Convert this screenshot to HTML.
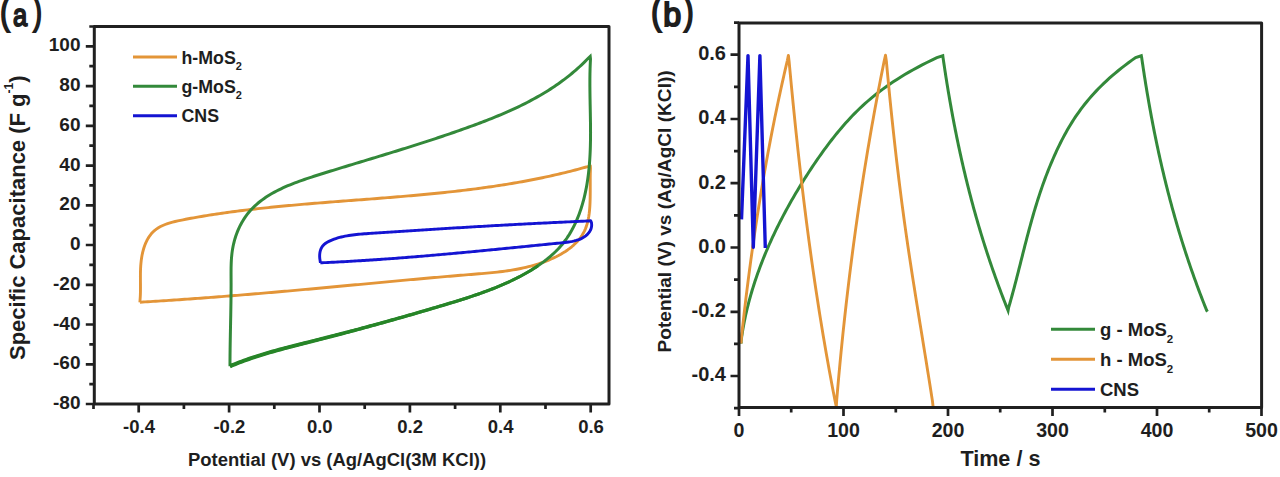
<!DOCTYPE html><html><head><meta charset="utf-8"><style>html,body{margin:0;padding:0;background:#fff;overflow:hidden;}svg{display:block;}text{font-family:"Liberation Sans",sans-serif;font-weight:bold;fill:#1e1e1e;}</style></head><body>
<svg width="1280" height="477" viewBox="0 0 1280 477">
<defs><clipPath id="ca"><rect x="94.3" y="26.5" width="514.7" height="377.5"/></clipPath><clipPath id="cb"><rect x="739" y="23" width="522.6" height="384.6"/></clipPath></defs>
<g clip-path="url(#ca)">
<path d="M139.90,302.40 L140.06,299.76 L140.24,297.25 L140.37,294.73 L140.44,292.18 L140.47,289.62 L140.48,287.04 L140.47,284.44 L140.44,281.83 L140.42,279.21 L140.42,276.57 L140.43,273.93 L140.48,271.27 L140.57,268.61 L140.72,265.95 L140.93,263.28 L141.21,260.61 L141.58,257.94 L142.04,255.28 L142.60,252.64 L143.26,250.04 L144.02,247.50 L144.89,245.01 L145.88,242.61 L146.99,240.30 L148.22,238.09 L149.57,236.01 L151.06,234.06 L152.69,232.25 L154.46,230.60 L156.37,229.12 L158.40,227.77 L160.54,226.57 L162.79,225.48 L165.13,224.51 L167.54,223.63 L170.02,222.85 L172.56,222.13 L175.14,221.48 L177.75,220.89 L180.39,220.33 L183.03,219.80 L185.67,219.29 L188.30,218.79 L190.93,218.30 L193.55,217.82 L196.17,217.35 L198.78,216.89 L201.38,216.45 L203.98,216.01 L206.57,215.58 L209.16,215.16 L211.75,214.76 L214.33,214.36 L216.91,213.96 L219.49,213.58 L222.06,213.21 L224.63,212.84 L227.20,212.48 L229.77,212.13 L232.33,211.78 L234.90,211.44 L237.46,211.11 L240.02,210.79 L242.59,210.47 L245.15,210.16 L247.72,209.85 L250.28,209.55 L252.85,209.25 L255.42,208.96 L257.99,208.67 L260.56,208.39 L263.13,208.11 L265.70,207.84 L268.28,207.57 L270.85,207.30 L273.43,207.04 L276.01,206.78 L278.59,206.53 L281.17,206.28 L283.75,206.04 L286.33,205.79 L288.91,205.55 L291.50,205.32 L294.08,205.08 L296.67,204.85 L299.26,204.63 L301.85,204.40 L304.43,204.18 L307.02,203.96 L309.62,203.74 L312.21,203.53 L314.80,203.31 L317.39,203.10 L319.98,202.89 L322.58,202.68 L325.17,202.48 L327.77,202.27 L330.36,202.07 L332.96,201.87 L335.56,201.66 L338.16,201.46 L340.75,201.26 L343.35,201.06 L345.95,200.87 L348.55,200.67 L351.15,200.47 L353.75,200.27 L356.35,200.07 L358.95,199.88 L361.55,199.68 L364.15,199.48 L366.75,199.28 L369.35,199.08 L371.95,198.88 L374.55,198.68 L377.15,198.48 L379.75,198.27 L382.35,198.07 L384.95,197.86 L387.56,197.65 L390.16,197.45 L392.76,197.23 L395.36,197.02 L397.96,196.81 L400.56,196.59 L403.16,196.37 L405.76,196.15 L408.36,195.93 L410.95,195.70 L413.55,195.47 L416.15,195.24 L418.75,195.00 L421.35,194.76 L423.94,194.52 L426.54,194.28 L429.13,194.03 L431.73,193.78 L434.32,193.52 L436.92,193.26 L439.51,193.00 L442.10,192.73 L444.69,192.46 L447.29,192.18 L449.88,191.90 L452.47,191.62 L455.05,191.33 L457.64,191.03 L460.23,190.73 L462.81,190.43 L465.40,190.11 L467.98,189.80 L470.57,189.48 L473.15,189.15 L475.73,188.82 L478.31,188.48 L480.89,188.13 L483.47,187.78 L486.04,187.43 L488.62,187.06 L491.19,186.69 L493.76,186.32 L496.34,185.93 L498.91,185.54 L501.47,185.14 L504.04,184.74 L506.61,184.33 L509.17,183.91 L511.74,183.48 L514.30,183.05 L516.86,182.61 L519.42,182.16 L521.97,181.70 L524.53,181.23 L527.08,180.76 L529.63,180.27 L532.18,179.78 L534.73,179.28 L537.28,178.77 L539.83,178.26 L542.37,177.73 L544.91,177.19 L547.45,176.65 L549.99,176.09 L552.52,175.53 L555.06,174.96 L557.59,174.37 L560.12,173.78 L562.65,173.17 L565.17,172.56 L567.70,171.94 L570.22,171.30 L572.74,170.66 L575.26,170.00 L577.77,169.34 L580.28,168.66 L582.79,167.97 L585.30,167.27 L587.81,166.56 L590.30,165.70 L590.46,168.37 L590.37,170.90 L590.30,173.45 L590.26,176.02 L590.24,178.61 L590.24,181.22 L590.24,183.85 L590.24,186.49 L590.24,189.15 L590.24,191.83 L590.22,194.52 L590.18,197.22 L590.12,199.94 L590.03,202.66 L589.90,205.39 L589.72,208.12 L589.49,210.83 L589.19,213.52 L588.81,216.19 L588.35,218.81 L587.79,221.39 L587.12,223.92 L586.34,226.38 L585.44,228.78 L584.40,231.09 L583.23,233.33 L581.92,235.48 L580.50,237.55 L578.95,239.54 L577.29,241.46 L575.53,243.30 L573.67,245.07 L571.72,246.76 L569.69,248.39 L567.58,249.94 L565.40,251.43 L563.15,252.85 L560.85,254.21 L558.49,255.51 L556.09,256.74 L553.66,257.91 L551.19,259.03 L548.70,260.09 L546.19,261.09 L543.67,262.04 L541.14,262.94 L538.61,263.78 L536.07,264.58 L533.52,265.34 L530.97,266.05 L528.41,266.71 L525.84,267.34 L523.27,267.93 L520.70,268.48 L518.12,268.99 L515.53,269.48 L512.94,269.93 L510.35,270.35 L507.75,270.75 L505.15,271.11 L502.55,271.46 L499.94,271.78 L497.33,272.09 L494.72,272.38 L492.10,272.65 L489.48,272.90 L486.86,273.15 L484.24,273.38 L481.62,273.61 L478.99,273.82 L476.37,274.04 L473.74,274.25 L471.12,274.46 L468.49,274.67 L465.86,274.88 L463.24,275.10 L460.61,275.31 L457.98,275.53 L455.36,275.75 L452.73,275.97 L450.10,276.19 L447.47,276.42 L444.85,276.64 L442.22,276.87 L439.59,277.10 L436.96,277.33 L434.33,277.56 L431.71,277.79 L429.08,278.02 L426.45,278.25 L423.82,278.49 L421.19,278.72 L418.57,278.96 L415.94,279.20 L413.31,279.44 L410.68,279.68 L408.05,279.92 L405.42,280.16 L402.79,280.40 L400.17,280.64 L397.54,280.88 L394.91,281.13 L392.28,281.37 L389.65,281.62 L387.02,281.86 L384.39,282.11 L381.77,282.35 L379.14,282.60 L376.51,282.84 L373.88,283.09 L371.25,283.33 L368.62,283.58 L365.99,283.83 L363.37,284.07 L360.74,284.32 L358.11,284.57 L355.48,284.81 L352.85,285.06 L350.23,285.31 L347.60,285.55 L344.97,285.80 L342.34,286.04 L339.71,286.29 L337.09,286.53 L334.46,286.77 L331.83,287.02 L329.20,287.26 L326.58,287.50 L323.95,287.75 L321.32,287.99 L318.70,288.23 L316.07,288.47 L313.44,288.71 L310.81,288.95 L308.19,289.19 L305.56,289.42 L302.93,289.66 L300.31,289.90 L297.68,290.13 L295.05,290.37 L292.43,290.60 L289.80,290.84 L287.17,291.07 L284.54,291.30 L281.92,291.53 L279.29,291.76 L276.66,291.99 L274.04,292.22 L271.41,292.45 L268.78,292.68 L266.15,292.90 L263.53,293.13 L260.90,293.35 L258.27,293.57 L255.64,293.79 L253.02,294.02 L250.39,294.24 L247.76,294.45 L245.13,294.67 L242.51,294.89 L239.88,295.10 L237.25,295.32 L234.62,295.53 L231.99,295.74 L229.36,295.95 L226.74,296.16 L224.11,296.37 L221.48,296.58 L218.85,296.78 L216.22,296.98 L213.59,297.19 L210.96,297.39 L208.33,297.59 L205.70,297.79 L203.07,297.98 L200.44,298.18 L197.81,298.37 L195.18,298.56 L192.55,298.76 L189.92,298.95 L187.29,299.13 L184.65,299.32 L182.02,299.50 L179.39,299.69 L176.76,299.87 L174.13,300.05 L171.49,300.23 L168.86,300.40 L166.23,300.58 L163.59,300.75 L160.96,300.92 L158.33,301.09 L155.69,301.26 L153.06,301.42 L150.42,301.59 L147.79,301.75 L145.15,301.91 L142.52,302.07 L139.90,302.40" fill="none" stroke="#E39538" stroke-width="2.9" stroke-linejoin="round"/>
<path d="M230.00,366.30 L229.98,363.83 L229.99,361.35 L230.01,358.87 L230.03,356.40 L230.05,353.93 L230.08,351.47 L230.11,349.01 L230.15,346.55 L230.19,344.09 L230.23,341.64 L230.27,339.19 L230.32,336.74 L230.36,334.29 L230.41,331.84 L230.46,329.40 L230.51,326.95 L230.56,324.51 L230.60,322.07 L230.65,319.63 L230.70,317.19 L230.75,314.75 L230.79,312.31 L230.83,309.86 L230.87,307.42 L230.91,304.98 L230.95,302.54 L230.98,300.09 L231.01,297.64 L231.03,295.20 L231.05,292.75 L231.07,290.29 L231.08,287.84 L231.09,285.38 L231.09,282.92 L231.08,280.46 L231.07,277.99 L231.06,275.53 L231.05,273.06 L231.06,270.58 L231.08,268.11 L231.13,265.64 L231.21,263.17 L231.32,260.70 L231.48,258.23 L231.69,255.77 L231.95,253.31 L232.28,250.85 L232.67,248.40 L233.14,245.96 L233.68,243.53 L234.29,241.11 L234.97,238.71 L235.73,236.33 L236.55,233.98 L237.44,231.66 L238.40,229.37 L239.42,227.12 L240.52,224.92 L241.68,222.76 L242.90,220.66 L244.19,218.60 L245.55,216.61 L246.96,214.68 L248.44,212.81 L249.98,211.00 L251.57,209.25 L253.22,207.55 L254.93,205.91 L256.68,204.32 L258.48,202.78 L260.34,201.29 L262.23,199.85 L264.18,198.45 L266.16,197.10 L268.18,195.80 L270.24,194.53 L272.34,193.31 L274.47,192.12 L276.63,190.97 L278.82,189.86 L281.04,188.78 L283.29,187.73 L285.56,186.71 L287.85,185.73 L290.17,184.76 L292.50,183.83 L294.85,182.92 L297.21,182.03 L299.58,181.16 L301.97,180.31 L304.36,179.48 L306.77,178.66 L309.17,177.86 L311.58,177.07 L313.99,176.30 L316.40,175.53 L318.80,174.77 L321.20,174.02 L323.60,173.27 L325.98,172.53 L328.36,171.79 L330.74,171.05 L333.11,170.32 L335.47,169.59 L337.83,168.87 L340.18,168.15 L342.53,167.43 L344.87,166.72 L347.21,166.01 L349.54,165.30 L351.87,164.59 L354.20,163.88 L356.53,163.18 L358.85,162.47 L361.17,161.77 L363.48,161.07 L365.80,160.37 L368.11,159.67 L370.42,158.97 L372.73,158.27 L375.04,157.57 L377.35,156.86 L379.66,156.16 L381.97,155.46 L384.28,154.76 L386.59,154.05 L388.90,153.34 L391.21,152.63 L393.53,151.92 L395.84,151.21 L398.16,150.49 L400.48,149.77 L402.80,149.05 L405.12,148.32 L407.45,147.60 L409.78,146.86 L412.11,146.13 L414.45,145.39 L416.78,144.64 L419.12,143.90 L421.46,143.14 L423.80,142.39 L426.15,141.63 L428.49,140.87 L430.83,140.10 L433.18,139.33 L435.53,138.56 L437.87,137.78 L440.22,136.99 L442.56,136.21 L444.91,135.42 L447.25,134.62 L449.60,133.82 L451.94,133.02 L454.28,132.21 L456.62,131.39 L458.96,130.58 L461.30,129.75 L463.63,128.93 L465.96,128.09 L468.29,127.26 L470.62,126.42 L472.94,125.57 L475.26,124.72 L477.58,123.86 L479.89,122.99 L482.20,122.12 L484.51,121.24 L486.81,120.35 L489.10,119.45 L491.39,118.54 L493.68,117.62 L495.96,116.70 L498.23,115.76 L500.50,114.82 L502.76,113.86 L505.01,112.89 L507.26,111.91 L509.50,110.91 L511.73,109.91 L513.96,108.89 L516.18,107.85 L518.38,106.81 L520.58,105.74 L522.78,104.67 L524.96,103.58 L527.13,102.47 L529.29,101.34 L531.45,100.20 L533.59,99.05 L535.72,97.87 L537.85,96.68 L539.96,95.47 L542.06,94.24 L544.15,92.99 L546.23,91.72 L548.29,90.43 L550.35,89.12 L552.39,87.79 L554.42,86.44 L556.43,85.07 L558.44,83.67 L560.42,82.25 L562.40,80.81 L564.36,79.35 L566.31,77.86 L568.24,76.35 L570.16,74.81 L572.06,73.25 L573.95,71.66 L575.82,70.05 L577.68,68.41 L579.52,66.74 L581.34,65.05 L583.15,63.33 L584.94,61.58 L586.71,59.80 L588.47,57.99 L590.20,56.40 L590.49,58.98 L590.36,61.47 L590.25,63.95 L590.15,66.44 L590.07,68.93 L590.01,71.43 L589.96,73.93 L589.92,76.43 L589.90,78.94 L589.89,81.44 L589.89,83.96 L589.90,86.47 L589.92,88.98 L589.94,91.50 L589.97,94.02 L590.01,96.54 L590.05,99.06 L590.10,101.58 L590.14,104.11 L590.19,106.63 L590.24,109.16 L590.29,111.69 L590.34,114.22 L590.38,116.75 L590.42,119.28 L590.46,121.81 L590.49,124.34 L590.51,126.87 L590.53,129.40 L590.54,131.93 L590.53,134.45 L590.52,136.98 L590.49,139.51 L590.46,142.04 L590.40,144.56 L590.34,147.09 L590.26,149.61 L590.16,152.13 L590.04,154.65 L589.90,157.17 L589.75,159.68 L589.57,162.20 L589.37,164.71 L589.15,167.22 L588.90,169.72 L588.63,172.23 L588.33,174.73 L588.01,177.22 L587.65,179.72 L587.27,182.21 L586.86,184.70 L586.42,187.18 L585.94,189.66 L585.43,192.14 L584.89,194.61 L584.31,197.07 L583.70,199.52 L583.05,201.96 L582.36,204.38 L581.63,206.80 L580.86,209.20 L580.05,211.58 L579.20,213.94 L578.31,216.28 L577.37,218.60 L576.39,220.90 L575.36,223.17 L574.29,225.41 L573.16,227.63 L571.99,229.82 L570.77,231.97 L569.50,234.10 L568.18,236.19 L566.80,238.25 L565.37,240.26 L563.89,242.24 L562.35,244.18 L560.75,246.08 L559.10,247.94 L557.39,249.75 L555.63,251.52 L553.82,253.25 L551.97,254.95 L550.08,256.60 L548.14,258.22 L546.17,259.80 L544.16,261.34 L542.12,262.85 L540.05,264.33 L537.96,265.77 L535.84,267.18 L533.70,268.56 L531.53,269.91 L529.34,271.23 L527.14,272.51 L524.92,273.77 L522.68,275.00 L520.43,276.20 L518.16,277.38 L515.89,278.53 L513.60,279.65 L511.31,280.75 L509.01,281.83 L506.70,282.88 L504.39,283.91 L502.08,284.92 L499.76,285.90 L497.43,286.87 L495.10,287.81 L492.76,288.74 L490.42,289.65 L488.07,290.55 L485.72,291.42 L483.37,292.28 L481.01,293.13 L478.64,293.96 L476.28,294.78 L473.91,295.59 L471.53,296.39 L469.16,297.17 L466.78,297.95 L464.39,298.71 L462.01,299.47 L459.62,300.22 L457.23,300.96 L454.84,301.70 L452.44,302.43 L450.04,303.16 L447.65,303.88 L445.24,304.61 L442.84,305.32 L440.44,306.04 L438.03,306.76 L435.63,307.47 L433.22,308.18 L430.81,308.89 L428.40,309.60 L425.99,310.31 L423.58,311.02 L421.16,311.72 L418.75,312.42 L416.33,313.12 L413.91,313.82 L411.49,314.52 L409.07,315.21 L406.65,315.90 L404.23,316.60 L401.81,317.28 L399.38,317.97 L396.96,318.66 L394.53,319.34 L392.11,320.02 L389.68,320.70 L387.25,321.38 L384.82,322.06 L382.39,322.73 L379.96,323.40 L377.53,324.07 L375.10,324.74 L372.67,325.41 L370.23,326.07 L367.80,326.74 L365.37,327.40 L362.93,328.05 L360.49,328.71 L358.06,329.36 L355.62,330.02 L353.18,330.67 L350.75,331.31 L348.31,331.96 L345.87,332.60 L343.43,333.24 L340.99,333.88 L338.55,334.52 L336.11,335.16 L333.67,335.79 L331.23,336.42 L328.79,337.05 L326.35,337.67 L323.91,338.30 L321.47,338.92 L319.03,339.54 L316.59,340.15 L314.15,340.77 L311.71,341.38 L309.27,341.99 L306.83,342.60 L304.39,343.22 L301.95,343.83 L299.51,344.44 L297.07,345.06 L294.64,345.68 L292.20,346.30 L289.77,346.93 L287.34,347.57 L284.91,348.21 L282.48,348.85 L280.06,349.51 L277.63,350.17 L275.21,350.84 L272.80,351.52 L270.38,352.21 L267.97,352.91 L265.56,353.63 L263.16,354.35 L260.76,355.09 L258.36,355.84 L255.97,356.61 L253.58,357.39 L251.20,358.19 L248.82,359.01 L246.44,359.84 L244.07,360.69 L241.70,361.56 L239.34,362.44 L236.99,363.35 L234.64,364.28 L232.29,365.23 L230.00,366.30" fill="none" stroke="#33893A" stroke-width="3.0" stroke-linejoin="miter" stroke-miterlimit="30"/>
<path d="M537.13,264.52 L535.02,265.93 L532.89,267.29 L530.75,268.63 L528.58,269.94 L526.39,271.21 L524.19,272.46 L521.96,273.68 L519.73,274.88 L517.48,276.05 L515.22,277.19 L512.95,278.30 L510.67,279.40 L508.38,280.47 L506.09,281.51 L503.79,282.54 L501.48,283.54 L499.17,284.52 L496.86,285.48 L494.53,286.41 L492.21,287.33 L489.87,288.23 L487.53,289.12 L485.19,289.99 L482.84,290.84 L480.49,291.68 L478.14,292.51 L475.77,293.32 L473.41,294.12 L471.04,294.91 L468.67,295.68 L466.29,296.45 L463.92,297.21 L461.53,297.96 L459.15,298.71 L456.76,299.44 L454.37,300.18 L451.98,300.90 L449.58,301.62 L447.18,302.34 L444.78,303.06 L442.38,303.77 L439.97,304.48 L437.57,305.19 L435.16,305.90 L432.75,306.61 L430.34,307.31 L427.93,308.02 L425.52,308.72 L423.11,309.42 L420.70,310.12 L418.28,310.82 L415.86,311.51 L413.45,312.20 L411.03,312.89 L408.61,313.58 L406.19,314.27 L403.76,314.96 L401.34,315.64 L398.92,316.32 L396.49,317.00 L394.07,317.68 L391.64,318.36 L389.21,319.03 L386.79,319.71 L384.36,320.38 L381.93,321.05 L379.50,321.71 L377.06,322.38 L374.63,323.04 L372.20,323.70 L369.77,324.36 L367.33,325.02 L364.90,325.67 L362.46,326.33 L360.03,326.98 L357.59,327.63 L355.16,328.27 L352.72,328.92 L350.28,329.56 L347.84,330.20 L345.41,330.84 L342.97,331.47 L340.53,332.11 L338.09,332.74 L335.65,333.37 L333.21,334.00 L330.77,334.62 L328.33,335.24 L325.89,335.86 L323.45,336.48 L321.01,337.10 L318.57,337.71 L316.13,338.32 L313.69,338.93 L311.24,339.54 L308.80,340.15 L306.36,340.75 L303.92,341.36 L301.48,341.97 L299.04,342.58 L296.60,343.19 L294.16,343.81 L291.72,344.43 L289.28,345.05 L286.84,345.68 L284.41,346.32 L281.97,346.96 L279.54,347.61 L277.11,348.27 L274.68,348.94 L272.26,349.62 L269.83,350.30 L267.41,351.00 L264.99,351.72 L262.58,352.44 L260.16,353.18 L257.75,353.93 L255.35,354.69 L252.95,355.47 L250.55,356.27 L248.15,357.09 L245.76,357.92 L243.37,358.77 L240.99,359.64 L238.61,360.53 L236.24,361.44 L233.88,362.38 L231.47,363.35 L229.13,364.44 L230.87,368.16 L233.11,367.11 L235.40,366.18 L237.73,365.26 L240.07,364.36 L242.42,363.47 L244.77,362.61 L247.12,361.76 L249.48,360.93 L251.85,360.11 L254.22,359.31 L256.59,358.53 L258.97,357.76 L261.36,357.01 L263.74,356.27 L266.14,355.54 L268.53,354.82 L270.93,354.12 L273.34,353.43 L275.75,352.74 L278.16,352.07 L280.57,351.40 L282.99,350.75 L285.41,350.10 L287.83,349.45 L290.26,348.81 L292.68,348.18 L295.11,347.55 L297.55,346.93 L299.98,346.31 L302.41,345.69 L304.85,345.07 L307.29,344.45 L309.73,343.84 L312.17,343.22 L314.61,342.60 L317.05,341.98 L319.49,341.36 L321.93,340.74 L324.37,340.11 L326.82,339.48 L329.26,338.85 L331.70,338.22 L334.14,337.58 L336.58,336.94 L339.02,336.30 L341.46,335.66 L343.90,335.02 L346.34,334.37 L348.77,333.72 L351.21,333.07 L353.65,332.42 L356.09,331.76 L358.52,331.10 L360.96,330.44 L363.40,329.78 L365.83,329.12 L368.27,328.45 L370.70,327.79 L373.13,327.12 L375.57,326.44 L378.00,325.77 L380.43,325.10 L382.86,324.42 L385.29,323.74 L387.72,323.06 L390.15,322.37 L392.57,321.69 L395.00,321.00 L397.43,320.31 L399.85,319.62 L402.27,318.93 L404.70,318.23 L407.12,317.54 L409.54,316.84 L411.96,316.14 L414.38,315.44 L416.80,314.73 L419.21,314.03 L421.63,313.32 L424.04,312.61 L426.45,311.90 L428.86,311.19 L431.28,310.47 L433.68,309.76 L436.09,309.04 L438.50,308.32 L440.90,307.60 L443.31,306.88 L445.71,306.15 L448.11,305.43 L450.51,304.70 L452.91,303.96 L455.31,303.23 L457.70,302.48 L460.09,301.73 L462.49,300.98 L464.87,300.21 L467.26,299.44 L469.65,298.66 L472.03,297.87 L474.41,297.06 L476.78,296.25 L479.15,295.42 L481.52,294.58 L483.89,293.73 L486.25,292.86 L488.61,291.97 L490.96,291.07 L493.31,290.15 L495.66,289.22 L498.00,288.26 L500.34,287.29 L502.67,286.29 L505.00,285.28 L507.32,284.25 L509.64,283.19 L511.95,282.11 L514.26,281.00 L516.56,279.87 L518.85,278.72 L521.13,277.53 L523.39,276.32 L525.65,275.08 L527.89,273.81 L530.11,272.52 L532.31,271.19 L534.50,269.83 L536.66,268.44 L538.79,267.02Z" fill="#268527"/>
<path d="M320.40,262.70 L320.12,260.76 L319.79,258.61 L319.64,256.49 L319.69,254.42 L319.94,252.43 L320.38,250.54 L321.03,248.77 L321.88,247.14 L322.93,245.67 L324.20,244.38 L325.63,243.26 L327.20,242.27 L328.87,241.39 L330.59,240.59 L332.33,239.86 L334.10,239.18 L335.88,238.56 L337.69,237.99 L339.51,237.46 L341.35,236.99 L343.20,236.56 L345.07,236.16 L346.95,235.81 L348.85,235.49 L350.75,235.20 L352.67,234.94 L354.59,234.71 L356.53,234.49 L358.47,234.30 L360.41,234.13 L362.36,233.97 L364.31,233.82 L366.27,233.68 L368.22,233.54 L370.18,233.41 L372.13,233.28 L374.09,233.15 L376.04,233.02 L377.99,232.89 L379.94,232.76 L381.89,232.63 L383.84,232.50 L385.79,232.37 L387.74,232.24 L389.68,232.11 L391.63,231.98 L393.57,231.85 L395.52,231.72 L397.46,231.60 L399.40,231.47 L401.34,231.34 L403.28,231.22 L405.22,231.09 L407.16,230.96 L409.10,230.84 L411.04,230.71 L412.98,230.59 L414.91,230.46 L416.85,230.34 L418.79,230.21 L420.72,230.09 L422.66,229.97 L424.59,229.84 L426.52,229.72 L428.45,229.60 L430.39,229.48 L432.32,229.35 L434.25,229.23 L436.18,229.11 L438.11,228.99 L440.04,228.87 L441.97,228.75 L443.90,228.63 L445.83,228.51 L447.76,228.40 L449.68,228.28 L451.61,228.16 L453.54,228.04 L455.47,227.92 L457.39,227.81 L459.32,227.69 L461.25,227.58 L463.17,227.46 L465.10,227.35 L467.02,227.23 L468.95,227.12 L470.87,227.00 L472.80,226.89 L474.73,226.78 L476.65,226.66 L478.58,226.55 L480.50,226.44 L482.43,226.33 L484.35,226.22 L486.28,226.11 L488.20,226.00 L490.13,225.89 L492.05,225.78 L493.98,225.67 L495.90,225.56 L497.83,225.46 L499.75,225.35 L501.68,225.24 L503.60,225.14 L505.53,225.03 L507.45,224.93 L509.38,224.82 L511.31,224.72 L513.23,224.61 L515.16,224.51 L517.09,224.41 L519.01,224.30 L520.94,224.20 L522.87,224.10 L524.80,224.00 L526.73,223.90 L528.66,223.80 L530.59,223.70 L532.52,223.60 L534.45,223.50 L536.38,223.41 L538.31,223.31 L540.24,223.21 L542.17,223.12 L544.10,223.02 L546.04,222.93 L547.97,222.83 L549.91,222.74 L551.84,222.64 L553.78,222.55 L555.71,222.46 L557.65,222.37 L559.59,222.28 L561.52,222.18 L563.46,222.09 L565.40,222.00 L567.34,221.92 L569.28,221.83 L571.22,221.74 L573.17,221.65 L575.11,221.57 L577.05,221.48 L579.00,221.39 L580.94,221.31 L582.89,221.22 L584.84,221.14 L586.79,221.06 L588.73,220.97 L590.60,220.70 L591.48,222.68 L591.68,224.80 L591.53,226.78 L591.08,228.63 L590.36,230.34 L589.43,231.91 L588.32,233.34 L587.07,234.65 L585.73,235.81 L584.30,236.86 L582.79,237.78 L581.22,238.59 L579.59,239.31 L577.89,239.93 L576.15,240.47 L574.36,240.94 L572.52,241.34 L570.66,241.69 L568.76,241.98 L566.84,242.24 L564.91,242.48 L562.96,242.69 L561.01,242.89 L559.05,243.08 L557.10,243.28 L555.15,243.47 L553.21,243.67 L551.26,243.86 L549.32,244.06 L547.37,244.25 L545.43,244.45 L543.49,244.65 L541.56,244.84 L539.62,245.03 L537.69,245.23 L535.75,245.42 L533.82,245.62 L531.89,245.81 L529.96,246.01 L528.04,246.20 L526.11,246.39 L524.19,246.58 L522.27,246.78 L520.35,246.97 L518.43,247.16 L516.51,247.35 L514.59,247.54 L512.67,247.74 L510.76,247.93 L508.84,248.12 L506.93,248.31 L505.02,248.50 L503.11,248.68 L501.20,248.87 L499.29,249.06 L497.38,249.25 L495.48,249.44 L493.57,249.62 L491.66,249.81 L489.76,249.99 L487.86,250.18 L485.95,250.36 L484.05,250.55 L482.15,250.73 L480.25,250.92 L478.35,251.10 L476.45,251.28 L474.55,251.46 L472.66,251.64 L470.76,251.82 L468.86,252.00 L466.97,252.18 L465.07,252.36 L463.18,252.53 L461.28,252.71 L459.39,252.89 L457.49,253.06 L455.60,253.23 L453.71,253.41 L451.81,253.58 L449.92,253.75 L448.03,253.92 L446.13,254.09 L444.24,254.26 L442.35,254.43 L440.46,254.60 L438.57,254.77 L436.67,254.93 L434.78,255.10 L432.89,255.26 L431.00,255.42 L429.11,255.59 L427.21,255.75 L425.32,255.91 L423.43,256.07 L421.54,256.22 L419.64,256.38 L417.75,256.54 L415.86,256.69 L413.96,256.85 L412.07,257.00 L410.17,257.15 L408.28,257.30 L406.38,257.45 L404.49,257.60 L402.59,257.75 L400.70,257.90 L398.80,258.04 L396.90,258.19 L395.00,258.33 L393.10,258.47 L391.20,258.61 L389.30,258.75 L387.40,258.89 L385.50,259.03 L383.60,259.16 L381.70,259.30 L379.79,259.43 L377.89,259.56 L375.98,259.69 L374.07,259.82 L372.17,259.95 L370.26,260.07 L368.35,260.20 L366.44,260.32 L364.53,260.44 L362.61,260.57 L360.70,260.68 L358.78,260.80 L356.87,260.92 L354.95,261.03 L353.03,261.15 L351.11,261.26 L349.19,261.37 L347.27,261.48 L345.34,261.59 L343.42,261.69 L341.49,261.80 L339.56,261.90 L337.63,262.00 L335.70,262.10 L333.77,262.20 L331.84,262.30 L329.90,262.39 L327.96,262.48 L326.03,262.58 L324.09,262.67 L322.14,262.75 L320.40,262.70" fill="none" stroke="#1414D2" stroke-width="2.9" stroke-linejoin="round"/>
</g>
<rect x="94.3" y="26.5" width="514.7" height="377.5" fill="none" stroke="#202020" stroke-width="3.0" stroke-linejoin="round"/>
<path d="M85.8,404.0H94.3M89.3,384.1H94.3M85.8,364.3H94.3M89.3,344.4H94.3M85.8,324.5H94.3M89.3,304.6H94.3M85.8,284.8H94.3M89.3,264.9H94.3M85.8,245.0H94.3M89.3,225.2H94.3M85.8,205.3H94.3M89.3,185.4H94.3M85.8,165.6H94.3M89.3,145.7H94.3M85.8,125.8H94.3M89.3,105.9H94.3M85.8,86.1H94.3M89.3,66.2H94.3M85.8,46.3H94.3M89.3,26.5H94.3M93.5,404.0V409.0M138.7,404.0V412.5M183.9,404.0V409.0M229.1,404.0V412.5M274.3,404.0V409.0M319.5,404.0V412.5M364.7,404.0V409.0M409.9,404.0V412.5M455.1,404.0V409.0M500.3,404.0V412.5M545.5,404.0V409.0M590.7,404.0V412.5" stroke="#202020" stroke-width="2.7" fill="none"/>
<text x="80.5" y="409.0" font-size="19" text-anchor="end">-80</text>
<text x="80.5" y="369.3" font-size="19" text-anchor="end">-60</text>
<text x="80.5" y="329.5" font-size="19" text-anchor="end">-40</text>
<text x="80.5" y="289.8" font-size="19" text-anchor="end">-20</text>
<text x="80.5" y="250.0" font-size="19" text-anchor="end">0</text>
<text x="80.5" y="210.3" font-size="19" text-anchor="end">20</text>
<text x="80.5" y="170.6" font-size="19" text-anchor="end">40</text>
<text x="80.5" y="130.8" font-size="19" text-anchor="end">60</text>
<text x="80.5" y="91.1" font-size="19" text-anchor="end">80</text>
<text x="80.5" y="51.3" font-size="19" text-anchor="end">100</text>
<text x="139.0" y="432.6" font-size="18.5" text-anchor="middle">-0.4</text>
<text x="229.4" y="432.6" font-size="18.5" text-anchor="middle">-0.2</text>
<text x="319.8" y="432.6" font-size="18.5" text-anchor="middle">0.0</text>
<text x="410.2" y="432.6" font-size="18.5" text-anchor="middle">0.2</text>
<text x="500.6" y="432.6" font-size="18.5" text-anchor="middle">0.4</text>
<text x="591.0" y="432.6" font-size="18.5" text-anchor="middle">0.6</text>
<text x="188" y="465.8" font-size="18.45">Potential (V) vs (Ag/AgCl(3M KCl))</text>
<text transform="translate(25,360) rotate(-90)" font-size="22">Specific Capacitance (F g<tspan font-size="12" dy="-12">-1</tspan><tspan dy="12">)</tspan></text>
<text transform="translate(0.24,23.90) scale(0.830,1.080)" font-size="34" style="font-weight:normal;stroke:#1e1e1e;stroke-width:2.0px">(</text>
<text transform="translate(13.00,25.70) scale(0.750,0.940)" font-size="34" style="font-weight:normal;stroke:#1e1e1e;stroke-width:2.0px">a</text>
<text transform="translate(33.20,23.90) scale(0.760,1.080)" font-size="34" style="font-weight:normal;stroke:#1e1e1e;stroke-width:2.0px">)</text>
<path d="M133,56.9H177" stroke="#E39538" stroke-width="3.0"/>
<text x="181.5" y="63.5" font-size="17.8">h-MoS<tspan font-size="11" dy="6.3">2</tspan></text>
<path d="M133,86.3H177" stroke="#33893A" stroke-width="3.0"/>
<text x="181.5" y="92.9" font-size="17.8">g-MoS<tspan font-size="11" dy="6.3">2</tspan></text>
<path d="M133,115.7H177" stroke="#1414D2" stroke-width="3.0"/>
<text x="181.5" y="122.3" font-size="17.8">CNS</text>
<g clip-path="url(#cb)">
<path d="M741.20,343.60 L741.06,341.18 L741.39,338.75 L741.74,336.33 L742.12,333.91 L742.51,331.48 L742.92,329.06 L743.35,326.64 L743.80,324.21 L744.27,321.79 L744.76,319.36 L745.27,316.94 L745.80,314.52 L746.35,312.09 L746.92,309.67 L747.51,307.25 L748.12,304.82 L748.75,302.40 L749.39,299.98 L750.06,297.55 L750.74,295.13 L751.44,292.71 L752.16,290.28 L752.91,287.86 L753.66,285.44 L754.44,283.01 L755.24,280.59 L756.05,278.16 L756.89,275.74 L757.74,273.32 L758.61,270.89 L759.50,268.47 L760.41,266.05 L761.33,263.62 L762.27,261.20 L763.23,258.78 L764.21,256.35 L765.21,253.93 L766.22,251.51 L767.26,249.08 L768.31,246.66 L769.37,244.24 L770.46,241.81 L771.56,239.39 L772.68,236.96 L773.82,234.54 L774.97,232.12 L776.14,229.69 L777.33,227.27 L778.54,224.85 L779.76,222.42 L781.00,220.00 L782.26,217.58 L783.53,215.15 L784.82,212.73 L786.12,210.31 L787.45,207.88 L788.79,205.46 L790.14,203.04 L791.51,200.61 L792.90,198.19 L794.31,195.76 L795.73,193.34 L797.16,190.92 L798.62,188.49 L800.09,186.07 L801.57,183.65 L803.07,181.22 L804.59,178.80 L806.12,176.38 L807.67,173.95 L809.24,171.53 L810.83,169.11 L812.44,166.68 L814.06,164.26 L815.71,161.84 L817.38,159.41 L819.07,156.99 L820.79,154.56 L822.52,152.14 L824.28,149.72 L826.07,147.29 L827.88,144.87 L829.72,142.45 L831.58,140.02 L833.47,137.60 L835.40,135.18 L837.36,132.75 L839.35,130.33 L841.40,127.91 L843.48,125.48 L845.62,123.06 L847.81,120.64 L850.05,118.21 L852.35,115.79 L854.71,113.36 L857.14,110.94 L859.65,108.52 L862.23,106.09 L864.89,103.67 L867.63,101.25 L870.47,98.82 L873.40,96.40 L876.43,93.98 L879.56,91.55 L882.80,89.13 L886.16,86.71 L889.63,84.28 L893.22,81.86 L896.94,79.44 L900.80,77.01 L904.78,74.59 L908.91,72.16 L913.18,69.74 L917.60,67.32 L922.17,64.89 L926.90,62.47 L931.80,60.05 L936.86,57.62 L942.80,55.80 L943.04,57.58 L943.41,60.16 L943.79,62.74 L944.17,65.32 L944.56,67.90 L944.95,70.48 L945.35,73.07 L945.75,75.65 L946.15,78.23 L946.56,80.81 L946.98,83.39 L947.40,85.97 L947.82,88.55 L948.25,91.13 L948.68,93.71 L949.12,96.29 L949.57,98.87 L950.02,101.45 L950.47,104.04 L950.93,106.62 L951.39,109.20 L951.86,111.78 L952.34,114.36 L952.82,116.94 L953.30,119.52 L953.80,122.10 L954.29,124.68 L954.80,127.26 L955.30,129.84 L955.82,132.42 L956.34,135.01 L956.86,137.59 L957.39,140.17 L957.93,142.75 L958.47,145.33 L959.02,147.91 L959.58,150.49 L960.14,153.07 L960.71,155.65 L961.28,158.23 L961.86,160.81 L962.45,163.39 L963.04,165.97 L963.64,168.56 L964.24,171.14 L964.86,173.72 L965.47,176.30 L966.10,178.88 L966.73,181.46 L967.37,184.04 L968.02,186.62 L968.67,189.20 L969.33,191.78 L970.00,194.36 L970.67,196.94 L971.35,199.53 L972.04,202.11 L972.73,204.69 L973.43,207.27 L974.14,209.85 L974.86,212.43 L975.58,215.01 L976.32,217.59 L977.06,220.17 L977.80,222.75 L978.56,225.33 L979.32,227.91 L980.09,230.49 L980.87,233.08 L981.65,235.66 L982.45,238.24 L983.25,240.82 L984.06,243.40 L984.87,245.98 L985.70,248.56 L986.53,251.14 L987.37,253.72 L988.22,256.30 L989.08,258.88 L989.95,261.46 L990.82,264.05 L991.71,266.63 L992.60,269.21 L993.50,271.79 L994.41,274.37 L995.33,276.95 L996.26,279.53 L997.19,282.11 L998.14,284.69 L999.09,287.27 L1000.05,289.85 L1001.02,292.43 L1002.00,295.02 L1002.99,297.60 L1003.99,300.18 L1005.00,302.76 L1006.02,305.34 L1007.04,307.92 L1008.08,310.50 L1008.54,307.92 L1009.29,305.34 L1010.03,302.76 L1010.76,300.18 L1011.47,297.60 L1012.18,295.02 L1012.89,292.43 L1013.58,289.85 L1014.27,287.27 L1014.95,284.69 L1015.62,282.11 L1016.29,279.53 L1016.96,276.95 L1017.62,274.37 L1018.28,271.79 L1018.93,269.21 L1019.59,266.63 L1020.24,264.05 L1020.89,261.46 L1021.54,258.88 L1022.20,256.30 L1022.85,253.72 L1023.50,251.14 L1024.16,248.56 L1024.82,245.98 L1025.48,243.40 L1026.15,240.82 L1026.82,238.24 L1027.50,235.66 L1028.18,233.08 L1028.87,230.49 L1029.57,227.91 L1030.28,225.33 L1030.99,222.75 L1031.71,220.17 L1032.44,217.59 L1033.18,215.01 L1033.93,212.43 L1034.70,209.85 L1035.47,207.27 L1036.26,204.69 L1037.06,202.11 L1037.88,199.53 L1038.71,196.94 L1039.55,194.36 L1040.41,191.78 L1041.29,189.20 L1042.18,186.62 L1043.09,184.04 L1044.02,181.46 L1044.97,178.88 L1045.93,176.30 L1046.92,173.72 L1047.93,171.14 L1048.95,168.56 L1050.00,165.97 L1051.07,163.39 L1052.17,160.81 L1053.29,158.23 L1054.43,155.65 L1055.59,153.07 L1056.79,150.49 L1058.00,147.91 L1059.25,145.33 L1060.52,142.75 L1061.83,140.17 L1063.17,137.59 L1064.55,135.01 L1065.97,132.42 L1067.43,129.84 L1068.93,127.26 L1070.48,124.68 L1072.08,122.10 L1073.74,119.52 L1075.44,116.94 L1077.21,114.36 L1079.03,111.78 L1080.92,109.20 L1082.87,106.62 L1084.89,104.04 L1086.98,101.45 L1089.14,98.87 L1091.38,96.29 L1093.69,93.71 L1096.09,91.13 L1098.57,88.55 L1101.13,85.97 L1103.78,83.39 L1106.52,80.81 L1109.35,78.23 L1112.28,75.65 L1115.30,73.07 L1118.43,70.48 L1121.66,67.90 L1124.99,65.32 L1128.43,62.74 L1131.98,60.16 L1135.65,57.58 L1141.30,55.80 L1141.67,57.58 L1142.04,60.16 L1142.42,62.74 L1142.81,65.32 L1143.19,67.90 L1143.59,70.48 L1143.98,73.07 L1144.38,75.65 L1144.79,78.23 L1145.20,80.81 L1145.61,83.39 L1146.03,85.97 L1146.46,88.55 L1146.89,91.13 L1147.32,93.71 L1147.76,96.29 L1148.20,98.87 L1148.65,101.45 L1149.10,104.04 L1149.56,106.62 L1150.03,109.20 L1150.50,111.78 L1150.97,114.36 L1151.45,116.94 L1151.94,119.52 L1152.43,122.10 L1152.93,124.68 L1153.43,127.26 L1153.94,129.84 L1154.45,132.42 L1154.97,135.01 L1155.50,137.59 L1156.03,140.17 L1156.56,142.75 L1157.11,145.33 L1157.66,147.91 L1158.21,150.49 L1158.77,153.07 L1159.34,155.65 L1159.91,158.23 L1160.49,160.81 L1161.08,163.39 L1161.67,165.97 L1162.27,168.56 L1162.88,171.14 L1163.49,173.72 L1164.11,176.30 L1164.73,178.88 L1165.37,181.46 L1166.01,184.04 L1166.65,186.62 L1167.30,189.20 L1167.96,191.78 L1168.63,194.36 L1169.30,196.94 L1169.98,199.53 L1170.67,202.11 L1171.37,204.69 L1172.07,207.27 L1172.78,209.85 L1173.50,212.43 L1174.22,215.01 L1174.95,217.59 L1175.69,220.17 L1176.44,222.75 L1177.19,225.33 L1177.95,227.91 L1178.72,230.49 L1179.50,233.08 L1180.29,235.66 L1181.08,238.24 L1181.88,240.82 L1182.69,243.40 L1183.51,245.98 L1184.33,248.56 L1185.17,251.14 L1186.01,253.72 L1186.86,256.30 L1187.72,258.88 L1188.58,261.46 L1189.46,264.05 L1190.34,266.63 L1191.24,269.21 L1192.14,271.79 L1193.05,274.37 L1193.96,276.95 L1194.89,279.53 L1195.83,282.11 L1196.77,284.69 L1197.72,287.27 L1198.69,289.85 L1199.66,292.43 L1200.64,295.02 L1201.63,297.60 L1202.63,300.18 L1203.63,302.76 L1204.65,305.34 L1205.68,307.92 L1206.71,310.50 L1207.50,311.60" fill="none" stroke="#33893A" stroke-width="3.0" stroke-linejoin="miter" stroke-miterlimit="30"/>
<path d="M741.00,343.50 L741.36,338.56 L741.89,333.64 L742.43,328.72 L742.97,323.80 L743.53,318.88 L744.09,313.96 L744.66,309.04 L745.24,304.12 L745.83,299.20 L746.43,294.29 L747.04,289.37 L747.66,284.46 L748.28,279.55 L748.92,274.64 L749.56,269.73 L750.22,264.82 L750.88,259.91 L751.56,255.01 L752.24,250.10 L752.94,245.20 L753.64,240.30 L754.35,235.40 L755.08,230.50 L755.81,225.60 L756.56,220.70 L757.31,215.81 L758.08,210.92 L758.85,206.03 L759.64,201.14 L760.43,196.25 L761.24,191.36 L762.06,186.48 L762.89,181.60 L763.73,176.72 L764.58,171.84 L765.45,166.96 L766.32,162.09 L767.20,157.22 L768.10,152.35 L769.01,147.48 L769.93,142.61 L770.86,137.75 L771.80,132.89 L772.76,128.03 L773.72,123.17 L774.70,118.32 L775.69,113.46 L776.70,108.61 L777.71,103.77 L778.74,98.92 L779.78,94.08 L780.83,89.24 L781.89,84.40 L782.97,79.57 L784.06,74.73 L785.16,69.90 L786.28,65.08 L787.41,60.25 L788.40,55.40 L789.11,61.37 L789.66,67.36 L790.22,73.34 L790.78,79.32 L791.35,85.30 L791.93,91.28 L792.51,97.26 L793.10,103.25 L793.69,109.23 L794.30,115.21 L794.91,121.18 L795.53,127.16 L796.15,133.14 L796.79,139.12 L797.43,145.09 L798.08,151.07 L798.74,157.04 L799.41,163.02 L800.09,168.99 L800.77,174.96 L801.46,180.93 L802.17,186.90 L802.88,192.87 L803.60,198.84 L804.34,204.81 L805.08,210.77 L805.83,216.74 L806.59,222.70 L807.36,228.66 L808.15,234.62 L808.94,240.58 L809.75,246.53 L810.56,252.49 L811.39,258.44 L812.23,264.39 L813.08,270.34 L813.94,276.29 L814.81,282.24 L815.70,288.18 L816.60,294.13 L817.51,300.07 L818.43,306.01 L819.36,311.94 L820.31,317.88 L821.27,323.81 L822.25,329.74 L823.23,335.67 L824.23,341.60 L825.25,347.52 L826.28,353.44 L827.32,359.36 L828.38,365.28 L829.45,371.19 L830.53,377.11 L831.63,383.01 L832.75,388.92 L833.88,394.82 L835.02,400.73 L836.30,406.60 L836.66,400.59 L837.17,394.59 L837.68,388.60 L838.21,382.61 L838.75,376.61 L839.31,370.62 L839.87,364.63 L840.44,358.64 L841.02,352.65 L841.62,346.67 L842.23,340.68 L842.84,334.69 L843.47,328.71 L844.11,322.73 L844.76,316.74 L845.43,310.76 L846.10,304.78 L846.78,298.80 L847.48,292.82 L848.19,286.85 L848.91,280.87 L849.64,274.90 L850.39,268.92 L851.14,262.95 L851.91,256.98 L852.69,251.02 L853.48,245.05 L854.28,239.08 L855.10,233.12 L855.92,227.16 L856.76,221.20 L857.61,215.24 L858.48,209.28 L859.35,203.33 L860.24,197.38 L861.14,191.43 L862.05,185.48 L862.98,179.53 L863.92,173.59 L864.87,167.64 L865.83,161.70 L866.81,155.77 L867.79,149.83 L868.79,143.89 L869.81,137.96 L870.83,132.03 L871.87,126.11 L872.93,120.18 L873.99,114.26 L875.07,108.34 L876.16,102.42 L877.27,96.51 L878.38,90.60 L879.51,84.69 L880.66,78.78 L881.82,72.88 L882.99,66.97 L884.17,61.07 L885.50,55.20 L886.37,61.15 L886.92,67.14 L887.48,73.13 L888.05,79.11 L888.62,85.10 L889.20,91.09 L889.79,97.07 L890.39,103.06 L891.00,109.04 L891.61,115.02 L892.24,121.00 L892.88,126.98 L893.52,132.96 L894.18,138.93 L894.84,144.91 L895.52,150.88 L896.20,156.85 L896.90,162.82 L897.61,168.79 L898.33,174.76 L899.06,180.73 L899.80,186.69 L900.56,192.65 L901.32,198.61 L902.10,204.57 L902.90,210.53 L903.70,216.49 L904.52,222.44 L905.35,228.39 L906.20,234.35 L907.05,240.29 L907.92,246.24 L908.81,252.19 L909.70,258.13 L910.60,264.07 L911.51,270.01 L912.43,275.96 L913.36,281.89 L914.30,287.83 L915.24,293.77 L916.19,299.71 L917.14,305.64 L918.09,311.58 L919.05,317.51 L920.01,323.45 L920.98,329.38 L921.94,335.32 L922.90,341.25 L923.87,347.19 L924.83,353.12 L925.79,359.06 L926.75,365.00 L927.70,370.93 L928.65,376.87 L929.59,382.81 L930.53,388.75 L931.46,394.69 L932.39,400.63 L933.10,406.60" fill="none" stroke="#E39538" stroke-width="2.9" stroke-linejoin="round"/>
<path d="M741.50,219.40 L748.00,55.60 L753.30,247.30 L759.90,55.60 L765.30,248.00" fill="none" stroke="#1414D2" stroke-width="3.4" stroke-linejoin="round"/>
</g>
<rect x="739.0" y="23.0" width="522.6" height="384.6" fill="none" stroke="#202020" stroke-width="3.0" stroke-linejoin="round"/>
<path d="M734.0,408.1H739.0M730.5,376.0H739.0M734.0,343.9H739.0M730.5,311.8H739.0M734.0,279.6H739.0M730.5,247.5H739.0M734.0,215.4H739.0M730.5,183.2H739.0M734.0,151.1H739.0M730.5,119.0H739.0M734.0,86.8H739.0M730.5,54.7H739.0M734.0,22.6H739.0M739.0,407.6V416.1M791.2,407.6V412.6M843.5,407.6V416.1M895.8,407.6V412.6M948.0,407.6V416.1M1000.2,407.6V412.6M1052.5,407.6V416.1M1104.8,407.6V412.6M1157.0,407.6V416.1M1209.2,407.6V412.6M1261.5,407.6V416.1" stroke="#202020" stroke-width="2.7" fill="none"/>
<text x="726" y="381.3" font-size="20" text-anchor="end">-0.4</text>
<text x="726" y="317.1" font-size="20" text-anchor="end">-0.2</text>
<text x="726" y="252.8" font-size="20" text-anchor="end">0.0</text>
<text x="726" y="188.5" font-size="20" text-anchor="end">0.2</text>
<text x="726" y="124.3" font-size="20" text-anchor="end">0.4</text>
<text x="726" y="60.0" font-size="20" text-anchor="end">0.6</text>
<text x="739.0" y="436.5" font-size="19.6" text-anchor="middle">0</text>
<text x="843.5" y="436.5" font-size="19.6" text-anchor="middle">100</text>
<text x="948.0" y="436.5" font-size="19.6" text-anchor="middle">200</text>
<text x="1052.5" y="436.5" font-size="19.6" text-anchor="middle">300</text>
<text x="1157.0" y="436.5" font-size="19.6" text-anchor="middle">400</text>
<text x="1261.5" y="436.5" font-size="19.6" text-anchor="middle">500</text>
<text x="1000.4" y="465.6" font-size="21.6" text-anchor="middle">Time / s</text>
<text transform="translate(670.5,352.5) rotate(-90)" font-size="19.1">Potential (V) vs (Ag/AgCl (KCl))</text>
<text transform="translate(651.30,23.90) scale(0.880,1.080)" font-size="34" style="font-weight:normal;stroke:#1e1e1e;stroke-width:2.0px">(</text>
<text transform="translate(663.30,26.20) scale(0.950,0.980)" font-size="34" style="font-weight:normal;stroke:#1e1e1e;stroke-width:2.0px">b</text>
<text transform="translate(684.00,23.90) scale(0.840,1.080)" font-size="34" style="font-weight:normal;stroke:#1e1e1e;stroke-width:2.0px">)</text>
<path d="M1051,329.3H1095" stroke="#33893A" stroke-width="3.0"/>
<text x="1100" y="335.7" font-size="18.5" xml:space="preserve">g - MoS<tspan font-size="11.5" dy="7">2</tspan></text>
<path d="M1051,359.3H1095" stroke="#E39538" stroke-width="3.0"/>
<text x="1100" y="365.7" font-size="18.5" xml:space="preserve">h - MoS<tspan font-size="11.5" dy="7">2</tspan></text>
<path d="M1051,389.3H1095" stroke="#1414D2" stroke-width="3.0"/>
<text x="1100" y="395.7" font-size="18.5">CNS</text>
</svg></body></html>
